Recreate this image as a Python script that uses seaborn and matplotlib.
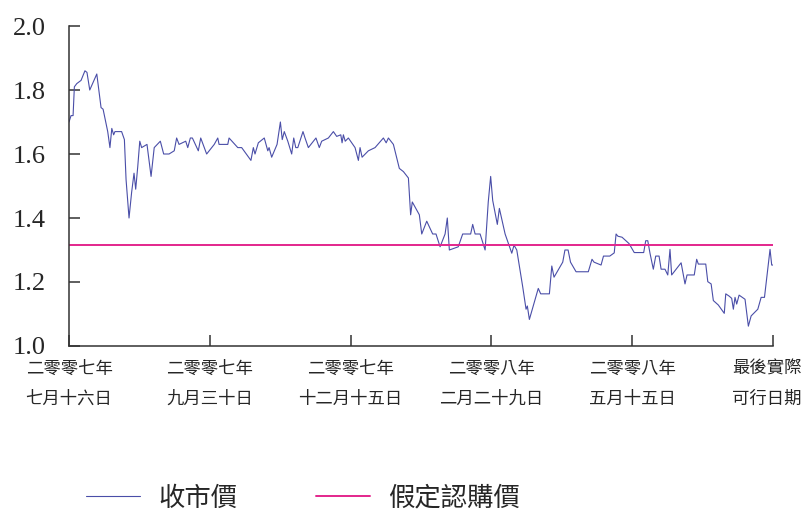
import seaborn as sns
import matplotlib.pyplot as plt
import matplotlib.transforms as mtransforms
import pandas as pd

# closing price (days counted from 16 Jul 2007)
start = pd.Timestamp("2007-07-16")
days = [0.0, 1.1, 2.2, 2.9, 4.2, 6.5, 8.6, 9.7, 11.2, 15.0, 16.4, 17.3, 18.4, 20.9,
        22.1, 23.1, 24.1, 24.8, 28.4, 29.9, 30.8, 32.4, 33.8, 35.1, 36.0, 37.1, 38.2,
        39.2, 42.1, 44.3, 46.0, 49.3, 51.1, 54.0, 56.8, 58.1, 59.4, 63.0, 64.1, 65.5,
        66.6, 69.8, 71.1, 74.3, 78.4, 80.3, 81.0, 85.7, 86.4, 91.1, 93.2, 98.2, 99.5,
        100.4, 102.2, 105.4, 107.3, 108.0, 109.4, 112.3, 114.1, 115.1, 116.2, 118.1,
        120.2, 121.3, 122.4, 123.5, 126.3, 127.4, 129.2, 133.3, 135.1, 136.4, 140.0,
        142.7, 144.5, 146.7, 147.4, 148.1, 149.1, 150.8, 154.4, 156.2, 157.1, 158.2,
        161.6, 165.2, 169.7, 171.2, 172.4, 175.1, 178.3, 180.5, 183.2, 184.4, 185.3,
        189.1, 190.4, 193.1, 196.3, 198.1, 200.3, 203.0, 204.2, 205.3, 210.1, 212.5,
        216.8, 217.9, 219.2, 221.9, 224.6, 226.3, 227.6, 228.7, 231.2, 232.3, 235.4,
        239.0, 240.2, 241.7, 244.9, 246.7, 247.4, 248.5, 253.3, 254.6, 259.3, 260.6,
        261.8, 266.5, 267.7, 269.4, 270.7, 273.7, 280.3, 282.3, 283.4, 287.2, 288.5,
        291.9, 294.3, 295.3, 296.3, 298.5, 302.3, 305.1, 310.2, 311.3, 312.4, 313.6,
        315.4, 316.7, 318.5, 319.6, 321.7, 323.2, 324.4, 325.3, 330.4, 332.5, 333.6,
        337.5, 338.8, 339.7, 343.7, 344.8, 346.6, 347.8, 350.5, 353.7, 354.5, 356.3,
        357.7, 358.6, 359.5, 360.4, 361.7, 364.9, 366.7, 368.2, 371.8, 373.6, 375.4,
        378.4, 379.3, 380.0]
price = [1.70, 1.72, 1.72, 1.81, 1.82, 1.83, 1.86, 1.855, 1.80, 1.85, 1.785, 1.745, 1.74,
         1.67, 1.62, 1.68, 1.66, 1.67, 1.67, 1.645, 1.52, 1.40, 1.48, 1.54, 1.49, 1.56,
         1.64, 1.62, 1.63, 1.53, 1.62, 1.64, 1.60, 1.60, 1.61, 1.65, 1.63, 1.64, 1.62,
         1.65, 1.65, 1.61, 1.65, 1.60, 1.63, 1.65, 1.63, 1.63, 1.65, 1.62, 1.62, 1.58,
         1.62, 1.60, 1.635, 1.65, 1.61, 1.62, 1.59, 1.63, 1.70, 1.645, 1.67, 1.64, 1.60,
         1.65, 1.62, 1.62, 1.67, 1.65, 1.62, 1.65, 1.62, 1.64, 1.65, 1.67, 1.655, 1.66,
         1.635, 1.66, 1.64, 1.65, 1.62, 1.58, 1.62, 1.59, 1.61, 1.62, 1.65, 1.635, 1.65,
         1.63, 1.555, 1.545, 1.525, 1.41, 1.45, 1.41, 1.35, 1.39, 1.35, 1.35, 1.31, 1.35,
         1.40, 1.30, 1.31, 1.35, 1.35, 1.38, 1.35, 1.35, 1.30, 1.45, 1.53, 1.455, 1.38,
         1.43, 1.35, 1.29, 1.315, 1.30, 1.185, 1.115, 1.125, 1.083, 1.18, 1.163, 1.163,
         1.25, 1.215, 1.262, 1.30, 1.30, 1.262, 1.232, 1.232, 1.271, 1.262, 1.253, 1.281,
         1.281, 1.291, 1.35, 1.343, 1.34, 1.32, 1.292, 1.292, 1.329, 1.329, 1.29, 1.24,
         1.281, 1.281, 1.24, 1.24, 1.222, 1.302, 1.222, 1.26, 1.194, 1.222, 1.222, 1.271,
         1.256, 1.256, 1.201, 1.194, 1.142, 1.128, 1.102, 1.163, 1.156, 1.149, 1.115,
         1.152, 1.131, 1.159, 1.146, 1.062, 1.094, 1.115, 1.152, 1.152, 1.302, 1.253,
         1.253]
strike = 1.315

tick_dates = ["2007-07-16", "2007-09-30", "2007-12-15", "2008-02-29", "2008-05-15", "2008-07-30"]
tick_labels = ["二零零七年\n七月十六日", "二零零七年\n九月三十日", "二零零七年\n十二月十五日",
               "二零零八年\n二月二十九日", "二零零八年\n五月十五日", "最後實際\n可行日期"]
legend_labels = ["收市價", "假定認購價"]

sns.set_style("ticks")
plt.rcParams['font.family'] = ['Noto Sans CJK TC', 'DejaVu Sans']

fig = plt.figure(figsize=(8.03, 5.11), dpi=100)
ax = fig.add_axes([69 / 803, 1 - 346 / 511, 704 / 803, 320 / 511])

df = pd.DataFrame({"day": days, "price": price})
sns.lineplot(data=df, x="day", y="price", ax=ax, color="#4a4ea8", linewidth=0.8,
             estimator=None, sort=False, label=legend_labels[0])
ax.axhline(strike, color="#e3268c", linewidth=1.4, label=legend_labels[1])

tick_pos = [(pd.Timestamp(d) - start).days for d in tick_dates]
ax.set_xlim(tick_pos[0], tick_pos[-1])
ax.set_ylim(1.0, 2.0)
ax.set_xticks(tick_pos)
ax.set_xticklabels(tick_labels, fontsize=12.5, linespacing=1.85)
ax.set_yticks([1.0, 1.2, 1.4, 1.6, 1.8, 2.0])
ax.set_yticklabels([f"{v:.1f}" for v in [1.0, 1.2, 1.4, 1.6, 1.8, 2.0]],
                   family="Liberation Serif", fontsize=19)
ax.set_xlabel("")
ax.set_ylabel("")

ax.tick_params(axis="x", direction="in", length=8, width=1.1, color="#333333", pad=10)
ax.tick_params(axis="y", direction="in", length=8, width=1.1, color="#333333", pad=17)
for s in ["top", "right"]:
    ax.spines[s].set_visible(False)
for s in ["left", "bottom"]:
    ax.spines[s].set_color("#333333")
    ax.spines[s].set_linewidth(1.1)

# nudge the last tick label left so it stays inside the figure
last = ax.get_xticklabels()[-1]
last.set_transform(last.get_transform() + mtransforms.ScaledTranslation(-6 / 100, 0, fig.dpi_scale_trans))

ax.get_legend().remove()
handles, labels = ax.get_legend_handles_labels()
fig.legend(handles, labels, loc="center left", bbox_to_anchor=(86 / 803, 1 - 498 / 511),
           ncol=2, frameon=False, fontsize=19, handlelength=2.05, handletextpad=0.68,
           columnspacing=3.0, borderpad=0, borderaxespad=0)

plt.savefig("out.png", dpi=100)
